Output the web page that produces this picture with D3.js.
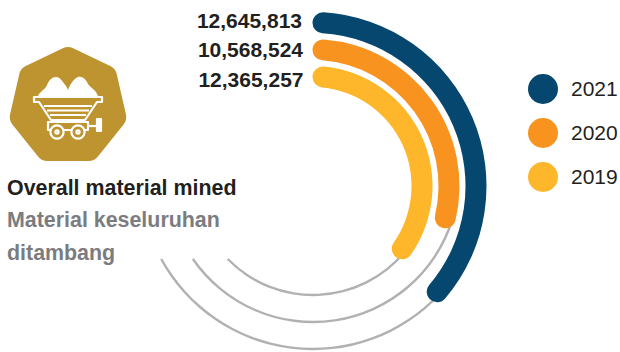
<!DOCTYPE html>
<html>
<head>
<meta charset="utf-8">
<script src="https://cdnjs.cloudflare.com/ajax/libs/d3/7.8.5/d3.min.js"></script>
<style>
html,body{margin:0;padding:0;background:#fff}
svg{display:block;font-family:"Liberation Sans",Arial,sans-serif}
</style>
</head>
<body>
<svg id="chart" width="620" height="352"></svg>
<script>
// Overall material mined per year, outermost ring first
const years = ["2021", "2020", "2019"];
const tonnes = [12645813, 10568524, 12365257];
const colours = ["#05476e", "#f8931f", "#feb72b"];
const titleLines = ["Overall material mined", "Material keseluruhan", "ditambang"];

const svg = d3.select("#chart");
const fmt = d3.format(",");
const rad = Math.PI / 180;

// Ring geometry: the bars and the thin guide rings have separate centres
const barCentre = { x: 312.5, y: 186 };
const guideCentre = { x: 313, y: 176 };
const barWidth = 21;
const guideCutY = 259;

const barRadius = d3.scaleOrdinal().domain(years).range([163.5, 136.5, 109.5]);
const guideRadius = d3.scaleOrdinal().domain(years).range([173, 146, 119]);
const sweep = d3.scaleLinear().domain([2000000, 12645813]).range([0, 134 * rad]);

// Angle of a bar's end-cap centre as seen from the guide ring centre
function guideStart(y, i) {
  const r = barRadius(y);
  const a = sweep(tonnes[i]) - (barWidth / 2) / r;
  const px = barCentre.x + r * Math.sin(a) - guideCentre.x;
  const py = barCentre.y - r * Math.cos(a) - guideCentre.y;
  return Math.atan2(px, -py);
}

// Guide rings run on from each bar end and stop at a common level
svg.append("g").attr("transform", `translate(${guideCentre.x},${guideCentre.y})`)
  .selectAll("path").data(years).join("path")
  .attr("d", (y, i) => {
    const r = guideRadius(y);
    const stop = Math.PI + Math.acos((guideCutY - guideCentre.y) / r);
    return d3.arc().innerRadius(r - 1.2).outerRadius(r + 1.2)
      .startAngle(guideStart(y, i)).endAngle(stop)();
  })
  .attr("fill", "#b1b1b3");

// Value bars
svg.append("g").attr("transform", `translate(${barCentre.x},${barCentre.y})`)
  .selectAll("path").data(years).join("path")
  .attr("d", (y, i) => d3.arc()
    .innerRadius(barRadius(y) - barWidth / 2).outerRadius(barRadius(y) + barWidth / 2)
    .cornerRadius(barWidth / 2).startAngle(0).endAngle(sweep(tonnes[i]))())
  .attr("fill", (y, i) => colours[i]);

// Value labels right-aligned against the bar starts
svg.selectAll("text.value").data(years).join("text")
  .attr("class", "value")
  .attr("x", (y, i) => [302, 303, 303.5][i])
  .attr("y", (y, i) => [28, 57, 87][i])
  .attr("text-anchor", "end")
  .attr("font-size", 21).attr("font-weight", 700)
  .attr("fill", "#231f20")
  .text((y, i) => fmt(tonnes[i]));

// Legend
const legendY = d3.scalePoint().domain(years).range([89, 177]);
svg.selectAll("circle.key").data(years).join("circle")
  .attr("class", "key").attr("cx", 543).attr("cy", y => legendY(y)).attr("r", 15)
  .attr("fill", (y, i) => colours[i]);
svg.selectAll("text.key").data(years).join("text")
  .attr("class", "key").attr("x", 571).attr("y", y => legendY(y) + 7)
  .attr("font-size", 21).attr("fill", "#231f20").text(y => y);

// Caption
svg.selectAll("text.caption").data(titleLines).join("text")
  .attr("class", "caption").attr("x", 7).attr("y", (d, i) => [195, 227, 260][i])
  .attr("font-size", 21.4).attr("font-weight", 700)
  .attr("fill", (d, i) => i === 0 ? "#231f20" : "#7b7c7f").text(d => d);

// Mine cart badge: rounded heptagon with a white cart and ore heap
const gold = "#be9430";
const hept = d3.range(7).map(i => {
  const a = -Math.PI / 2 + i * 2 * Math.PI / 7;
  return [68 + 47.4 * Math.cos(a), 106.4 + 47.4 * Math.sin(a)];
});
const badge = svg.append("g");
badge.append("path").attr("d", d3.line().curve(d3.curveLinearClosed)(hept))
  .attr("fill", gold).attr("stroke", gold)
  .attr("stroke-width", 24).attr("stroke-linejoin", "round");

// Ore heap
badge.append("path").attr("fill", "#fff")
  .attr("d", "M38 96 C40 91 45 90 47 85 C49 80 52 77 56 77 C60 77 63 82 66 86 L68 90 C70 85 73 79 78 77 C83 76 86 80 88 84 C91 88 96 90 98 96 Z");

// Cart outline
const cart = badge.append("g").attr("fill", "none").attr("stroke", "#fff")
  .attr("stroke-width", 2.2).attr("stroke-linejoin", "round");
cart.append("path").attr("d", "M34 97 H102 V102 H97 L85 120 H51 L39 102 H34 Z");
cart.append("path").attr("d", "M44 106 H92 M47 110.5 H89 M50 115 H86").attr("stroke-width", 2);
cart.append("path").attr("d", "M48 122 H88 V130 H48 Z");
cart.append("path").attr("d", "M88 126 H97");
cart.append("path").attr("d", "M97 119 H101 V131 H97 Z").attr("fill", "#fff");
[57, 78].forEach(x => {
  cart.append("circle").attr("cx", x).attr("cy", 132).attr("r", 6.6).attr("fill", gold);
  cart.append("circle").attr("cx", x).attr("cy", 132).attr("r", 1.6);
});
</script>
</body>
</html>
